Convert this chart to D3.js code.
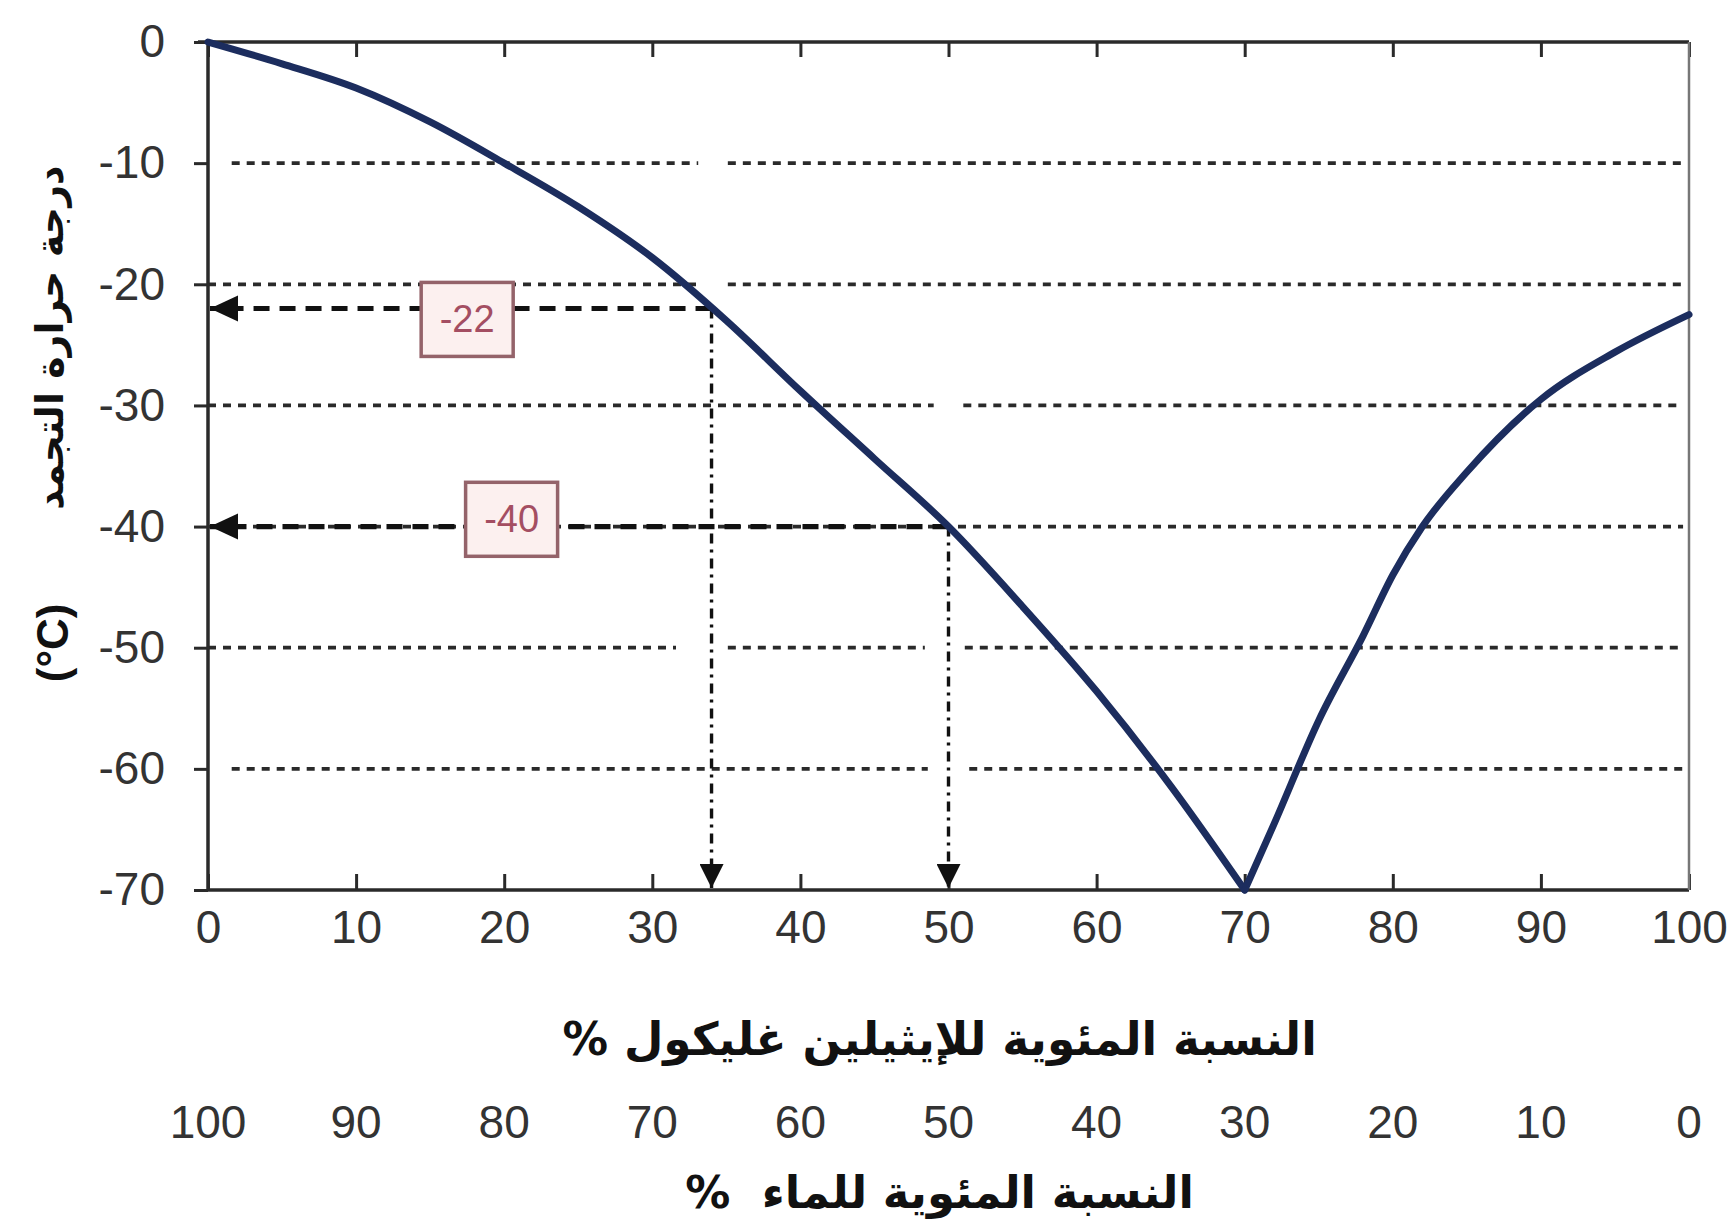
<!DOCTYPE html>
<html>
<head>
<meta charset="utf-8">
<script src="https://cdn.jsdelivr.net/npm/d3@7"></script>
<style>
html,body{margin:0;padding:0;background:#fff;}
svg{display:block;}
</style>
</head>
<body>
<svg id="chart" width="1733" height="1223"></svg>
<script>
// ---- data ----
const glycolPct = [0, 5, 10, 15, 20, 25, 30, 35, 40, 45, 50, 55, 60, 65, 70, 72, 75, 78, 80, 82, 85, 90, 95, 100];
const freezeC   = [0, -1.8, -3.8, -6.6, -10, -13.6, -17.8, -23, -28.8, -34.4, -40, -46.6, -53.6, -61.4, -70, -64.5, -56, -49, -44, -40, -35.5, -29.5, -25.6, -22.5];
const eutecticPct = 70;
const xTicks = [0, 10, 20, 30, 40, 50, 60, 70, 80, 90, 100];
const waterTicks = [100, 90, 80, 70, 60, 50, 40, 30, 20, 10, 0];
const yTicks = [0, -10, -20, -30, -40, -50, -60, -70];
const gridLevels = [-10, -20, -30, -40, -50, -60];
const gridStart = [1.6, 0, 0, 0, 0, 1.6];
const gridGaps = [[[33.1, 35.1]], [[33.1, 35.1]], [[49, 51]], [], [[31.6, 35.1], [48.4, 51.1]], [[48.6, 51.4]]];
const readingX = [34, 50];
const readingY = [-22, -40];
const readingLabel = ["-22", "-40"];
const labelAnchorX = [17.5, 20.5];
const labelAnchorY = [-22.9, -39.4];
const yTitleAr = "درجة حرارة التجمد";
const yTitleUnit = "(°C)";
const xTitleGlycol = "النسبة المئوية للإيثيلين غليكول %";
const xTitleWater = "النسبة المئوية للماء \u00A0%";

// ---- layout ----
const svg = d3.select("#chart");
const L = 208, R = 1689, T = 42, B = 890;
const x = d3.scaleLinear().domain([0, 100]).range([L, R]);
const y = d3.scaleLinear().domain([0, -70]).range([T, B]);
const numFont = "'Liberation Sans', Arial, sans-serif";
const arFont = "'DejaVu Sans', sans-serif";

const defs = svg.append("defs");
defs.append("marker").attr("id","arrD").attr("viewBox","0 0 10 10").attr("refX",10).attr("refY",5)
  .attr("markerWidth",24).attr("markerHeight",24).attr("markerUnits","userSpaceOnUse").attr("orient","auto")
  .append("path").attr("d","M0,0 L10,5 L0,10 Z").attr("fill","#111");

// grid lines (dotted, with small breaks)
const gridG = svg.append("g");
gridLevels.forEach((lv, i) => {
  const segs = [];
  let s = gridStart[i];
  gridGaps[i].forEach(g => { segs.push([s, g[0]]); s = g[1]; });
  segs.push([s, 99.6]);
  gridG.selectAll(null).data(segs).join("line")
    .attr("x1", d => x(d[0])).attr("x2", d => x(d[1]))
    .attr("y1", y(lv)).attr("y2", y(lv))
    .attr("stroke", "#2a2a2a").attr("stroke-width", 3.8).attr("stroke-dasharray", "8,7");
});

// axes
const axisColor = "#2a2a2a";
const fmt = d => String(d);
const gBottom = svg.append("g").attr("transform", `translate(0,${B})`)
  .call(d3.axisBottom(x).tickValues(xTicks).tickSize(-16).tickPadding(20).tickFormat(fmt));
const gTop = svg.append("g").attr("transform", `translate(0,${T})`)
  .call(d3.axisTop(x).tickValues(xTicks).tickSize(-15).tickFormat(""));
const gLeft = svg.append("g").attr("transform", `translate(${L},0)`)
  .call(d3.axisLeft(y).tickValues(yTicks).tickSize(14).tickPadding(29).tickFormat(fmt));
[gBottom, gTop, gLeft].forEach(g => {
  g.select(".domain").attr("stroke", axisColor).attr("stroke-width", 3.5);
  g.selectAll(".tick line").attr("stroke", axisColor).attr("stroke-width", 3);
  g.selectAll(".tick text").attr("fill", "#333").style("font-family", numFont).style("font-size", "46px");
});
gBottom.select(".domain").attr("d", `M${L},0H${R}`);
gTop.select(".domain").attr("d", `M${L-10},0H${R}`);
gLeft.select(".domain").attr("d", `M0,${T}V${B}`);
svg.append("line").attr("x1", R).attr("x2", R).attr("y1", T).attr("y2", B)
  .attr("stroke", "#777").attr("stroke-width", 2.5);

// reading guides
readingX.forEach((rx, i) => {
  const ry = readingY[i];
  svg.append("line").attr("x1", x(rx)).attr("x2", x(rx)).attr("y1", y(ry)).attr("y2", y(-70) - 2)
    .attr("stroke", "#111").attr("stroke-width", 3.4).attr("stroke-dasharray", "10,6,3,6")
    .attr("marker-end", "url(#arrD)");
  svg.append("line").attr("x1", x(rx)).attr("x2", x(0) + 2).attr("y1", y(ry)).attr("y2", y(ry))
    .attr("stroke", "#111").attr("stroke-width", 5.2).attr("stroke-dasharray", "16,10");
  svg.append("path").attr("d", `M${x(0)+2},${y(ry)} l28,-13 l0,26 Z`).attr("fill", "#111");
});

// curve: two branches meeting at the eutectic point
const pts = glycolPct.map((p, i) => [p, freezeC[i]]);
const branches = [pts.filter(d => d[0] <= eutecticPct), pts.filter(d => d[0] >= eutecticPct)];
const line = d3.line().x(d => x(d[0])).y(d => y(d[1])).curve(d3.curveMonotoneX);
svg.append("g").selectAll("path").data(branches).join("path").attr("d", line)
  .attr("fill", "none").attr("stroke", "#1c2d5e").attr("stroke-width", 7)
  .attr("stroke-linejoin", "miter").attr("stroke-linecap", "round");

// value boxes
readingLabel.forEach((lab, i) => {
  const cx = x(labelAnchorX[i]), cy = y(labelAnchorY[i]);
  svg.append("rect").attr("x", cx - 46).attr("y", cy - 37).attr("width", 92).attr("height", 74)
    .attr("fill", "#fcf0ef").attr("stroke", "#94636a").attr("stroke-width", 3.5);
  svg.append("text").attr("x", cx).attr("y", cy).attr("text-anchor", "middle").attr("dominant-baseline", "central")
    .attr("fill", "#a44e62").style("font-family", numFont).style("font-size", "38px").text(lab);
});

// water percentage row
svg.append("g").selectAll("text").data(waterTicks).join("text")
  .attr("x", (d, i) => x(xTicks[i])).attr("y", 1138)
  .attr("text-anchor", "middle").attr("fill", "#333")
  .style("font-family", numFont).style("font-size", "46px").text(d => d);

// titles
svg.append("text").attr("x", x(49.4)).attr("y", 1055).attr("text-anchor", "middle")
  .attr("direction", "rtl").style("font-family", arFont).style("font-weight", "bold")
  .style("font-size", "45.5px").attr("fill", "#111").text(xTitleGlycol);
svg.append("text").attr("x", x(49.4)).attr("y", 1208).attr("text-anchor", "middle")
  .attr("direction", "rtl").style("font-family", arFont).style("font-weight", "bold")
  .style("font-size", "45px").attr("fill", "#111").text(xTitleWater);

// y title (rotated)
svg.append("text").attr("transform", `translate(63,${y(-24.4)}) rotate(-90)`).attr("text-anchor", "middle")
  .style("font-family", arFont).style("font-weight", "bold").style("font-size", "38px")
  .attr("fill", "#111").text(yTitleAr);
svg.append("text").attr("transform", `translate(68,${y(-49.6)}) rotate(-90)`).attr("text-anchor", "middle")
  .style("font-family", numFont).style("font-weight", "bold").style("font-size", "44px")
  .attr("fill", "#111").text(yTitleUnit);
</script>
</body>
</html>
